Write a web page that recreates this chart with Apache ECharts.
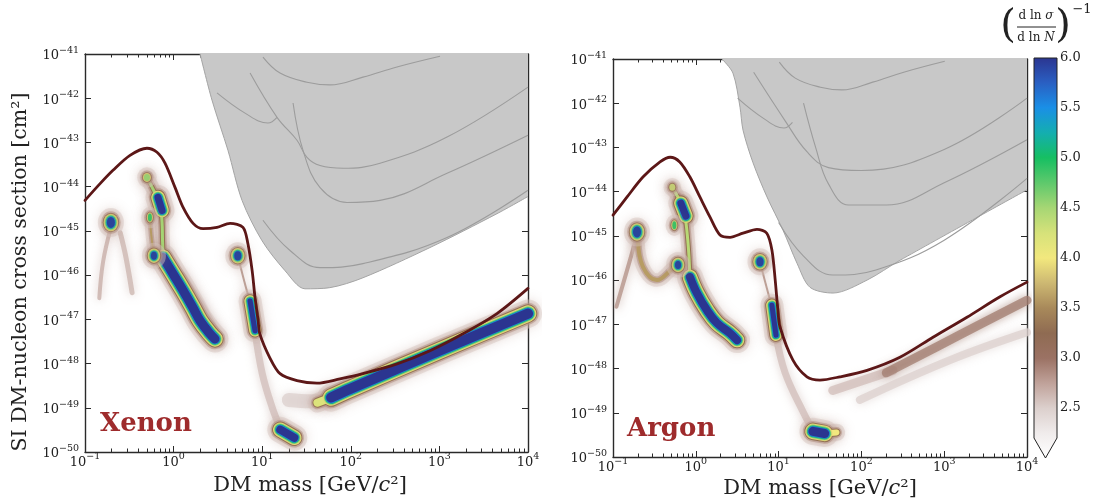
<!DOCTYPE html>
<html><head><meta charset="utf-8">
<script src="https://cdn.jsdelivr.net/npm/echarts@6/dist/echarts.min.js"></script>
<style>html,body{margin:0;padding:0;background:#fff}#c{width:1101px;height:501px}</style>
</head><body><div id="c"></div>
<script>
// ================= DATA =================
// axis tick values
const massTicks = [0.1, 1, 10, 100, 1000, 10000];
const sigmaDecades = [-50, -49, -48, -47, -46, -45, -44, -43, -42, -41];   // exponents of 10 (cm^2)
const cbarTicks = [2.5, 3.0, 3.5, 4.0, 4.5, 5.0, 5.5, 6.0];
const cbarMax = 6.0, cbarLow = 2.2, cbarTip = 2.0;

// ---- Xenon panel ----  [mass GeV, sigma cm^2]
const xeFloor = [[0.1,4.9e-45],[0.148,1.17e-44],[0.207,2.34e-44],[0.322,5.1e-44],[0.50,7.4e-44],[0.65,6.0e-44],[0.80,3.4e-44],[1.04,9.5e-45],[1.28,3.4e-45],[1.66,1.48e-45],[2.15,1.12e-45],[3.09,1.2e-45],[4.34,1.48e-45],[6.07,1.2e-45],[6.9,5.1e-46],[7.7,1.26e-46],[8.3,3.1e-47],[9.0,9.3e-48],[9.4,4.7e-48],[12.2,1.35e-48],[15.9,5.9e-49],[24.7,4.1e-49],[41.5,3.6e-49],[75.5,4.5e-49],[137,5.9e-49],[332,9.8e-49],[783,1.95e-48],[1845,4.7e-48],[4467,1.35e-47],[10000,5.0e-47]];
const xeExcl = [[1.99,1e-41],[2.71,9.1e-43],[4.11,6.6e-44],[5.92,4.9e-45],[9.95,6.0e-46],[18.1,1.26e-46],[30.4,4.9e-47],[58,5.2e-47],[137,8.7e-47],[783,4.2e-46],[4467,2.45e-45],[10000,6.0e-45]];
const xeLim1 = [[7.3,3.7e-42],[14.7,3.7e-43],[24.7,1.12e-43],[32,4.6e-44],[45,3.0e-44],[82,2.6e-44],[214,3.4e-44],[1220,1.32e-43],[10000,1.78e-42]];
const xeLim2 = [[22.3,7.8e-43],[28.9,6.6e-44],[45,9.5e-45],[90.6,4.4e-45],[214,4.9e-45],[1220,2.0e-44],[10000,1.45e-43]];
const xeLim3 = [[10.2,1.74e-45],[20.6,3.6e-46],[45,1.48e-46],[137,1.82e-46],[1220,7.1e-46],[10000,8.3e-45]];
const xeLim4 = [[3.09,1.32e-42],[6.4,4.6e-43],[11.6,2.75e-43],[14.7,3.7e-43]];
const xeLim5 = [[10.2,8.5e-42],[15.9,3.7e-42],[32,2.3e-42],[58,2.0e-42],[137,3.0e-42],[332,5.1e-42],[1016,8.9e-42]];

const xeSpots = [[0.196,1.55e-45],[0.50,1.62e-44],[0.54,2.0e-45],[0.60,2.75e-46],[5.3,2.75e-46]];
const xeSpotPeak = [6.0, 4.6, 5.0, 6.0, 6.0];
const xeBand = [[0.76,2.5e-46],[0.985,1.07e-46],[1.28,4.5e-47],[1.66,1.8e-47],[1.99,9.3e-48],[2.58,4.7e-48],[2.93,3.6e-48]];
const xeStrand = [[0.50,1.62e-44],[0.62,7e-45],[0.70,4.0e-45],[0.74,1.6e-45],[0.75,6e-46],[0.76,2.5e-46]];
const xeStrand2 = [[0.54,2e-45],[0.56,8e-46],[0.60,2.75e-46]];
const xeSpot3 = [[0.667,5.7e-45],[0.74,2.9e-45]];
const xeSpot7 = [[7.3,2.6e-47],[8.3,5.5e-48]];
const xeSpot8 = [[16,3.2e-50],[23,2.1e-50]];
const xeBand2Tip = [[42,1.3e-49],[62,1.75e-49]];
const xeBand2 = [[60,1.7e-49],[100,2.7e-49],[1000,1.95e-48],[10000,1.35e-47]];
const xeHaze1 = [[0.196,1.2e-45],[0.16,2e-46],[0.145,3e-47]];
const xeHaze2 = [[0.25,9e-46],[0.29,2.5e-46],[0.34,4e-47]];
const xeHaze3 = [[1.2,9e-47],[2.0,1.8e-47],[3.3,3e-48]];
const xeHaze4 = [[5.3,2.75e-46],[6.6,5e-47],[7.3,2.6e-47]];
const xeHaze5 = [[8.3,5.5e-48],[10,6e-49],[13,1e-49],[16,3.5e-50]];
const xeHaze6 = [[20,1.5e-49],[35,1.4e-49],[50,1.45e-49]];

// ---- Argon panel ----
const arFloor = [[0.1,2.95e-45],[0.148,7.6e-45],[0.23,2.14e-44],[0.37,4.7e-44],[0.49,6.0e-44],[0.64,4.7e-44],[0.85,2.14e-44],[1.12,7.6e-45],[1.48,2.7e-45],[1.96,1.05e-45],[2.59,9.3e-46],[3.72,1.15e-45],[5.48,1.41e-45],[7.2,1.15e-45],[8.3,4.8e-46],[9.1,1.0e-46],[9.8,2.1e-47],[10.4,8.7e-48],[14.9,1.55e-48],[22,6.5e-49],[31.6,5.5e-49],[55,6.5e-49],[117,9.1e-49],[292,1.8e-48],[733,5.1e-48],[1884,1.45e-47],[4720,4.2e-47],[10000,9.0e-47]];
const arExcl = [[2.07,1e-41],[2.81,4.8e-42],[3.42,8.1e-43],[3.72,2.45e-43],[4.91,4.5e-44],[7.24,7.6e-45],[11.3,1.35e-45],[16.7,2.4e-46],[23.9,6.9e-47],[45.4,5.1e-47],[117,1.0e-46],[292,2.8e-46],[10000,1.1e-44]];
const arLim1 = [[5,5e-42],[12,4e-43],[22,8e-44],[40,3.5e-44],[100,3e-44],[1000,9e-44],[10000,1.3e-42]];
const arLim2 = [[20,1e-42],[28,1e-43],[40,1.5e-44],[70,5e-45],[200,5e-45],[1000,1.6e-44],[10000,1.5e-43]];
const arLim3 = [[10,2e-45],[20,3.5e-46],[45,1.3e-46],[150,1.7e-46],[1000,8e-46],[10000,2.0e-44]];
const arLim4 = [[3.2,1.3e-42],[6.5,4.6e-43],[11.6,2.75e-43],[14.7,3.7e-43]];
const arLim5 = [[10.2,8.5e-42],[15.9,3.7e-42],[32,2.3e-42],[58,2.0e-42],[137,3.0e-42],[332,5.1e-42],[1016,8.9e-42]];

const arSpots = [[0.195,1.23e-45],[0.52,1.26e-44],[0.55,1.74e-45],[0.61,2.2e-46],[5.96,2.6e-46]];
const arSpotPeak = [6.0, 4.3, 5.0, 6.0, 6.0];
const arSpot3 = [[0.66,5.5e-45],[0.76,2.8e-45]];
const arStrand = [[0.52,1.26e-44],[0.62,7e-45],[0.72,3.6e-45],[0.80,8e-46],[0.85,1.17e-46]];
const arBand = [[0.85,1.17e-46],[1.03,5.1e-47],[1.36,2.1e-47],[1.80,1.07e-47],[2.59,6.3e-48],[3.15,4.4e-48]];
const arSpot7 = [[8.3,2.7e-47],[9.3,5.7e-48]];
const arSpot8 = [[26,3.8e-50],[36,3.4e-50]];
const arSpot8Tail = [[36,3.4e-50],[50,3.6e-50]];
const arArch = [[0.2,8e-46],[0.23,2e-46],[0.34,1.0e-46],[0.5,1.7e-46],[0.6,2.5e-46]];
const arTail = [[0.19,9e-46],[0.16,2.8e-46],[0.11,2.5e-47]];
const arHigh1a = [[45,3.2e-49],[240,9.1e-49]];
const arHigh1b = [[200,8e-49],[1550,5.8e-48],[10000,3.5e-47]];
const arHigh2 = [[96,1.95e-49],[1175,1.55e-48],[10000,6.6e-48]];
const arHaze1 = [[5.96,2.6e-46],[7.5,5e-47],[8.3,2.7e-47]];
const arHaze2 = [[9.3,5.7e-48],[12,8e-49],[20,1e-49],[26,4e-50]];

// ================= STYLE / BUILD =================
const FONT = "'DejaVu Serif', serif";
const cbarStops = [[2.0,'#ffffff'],[2.25,'#f0ecec'],[2.5,'#dcd0cd'],[2.75,'#c0a29a'],[3.0,'#9b7264'],[3.25,'#8f6b52'],[3.5,'#a8895a'],[3.75,'#cdb872'],[4.0,'#f2e87e'],[4.25,'#d6e27a'],[4.5,'#a6d674'],[4.75,'#5ec96c'],[5.0,'#16bf62'],[5.25,'#14aeb0'],[5.5,'#1a8fe6'],[5.75,'#2a5fc2'],[6.0,'#2b3590']];
function hex(h){return [parseInt(h.substr(1,2),16),parseInt(h.substr(3,2),16),parseInt(h.substr(5,2),16)];}
function cmap(v){
  if (v<=cbarStops[0][0]) return cbarStops[0][1];
  for (let i=1;i<cbarStops.length;i++){
    if (v<=cbarStops[i][0]){
      const [v0,c0]=cbarStops[i-1],[v1,c1]=cbarStops[i];
      const t=(v-v0)/(v1-v0), a=hex(c0), b=hex(c1);
      return 'rgb('+a.map((x,k)=>Math.round(x+(b[k]-x)*t)).join(',')+')';
    }
  }
  return cbarStops[cbarStops.length-1][1];
}
function rgba(c,a){const m=c.match(/\d+/g);return 'rgba('+m.slice(0,3).join(',')+','+a+')';}
function powLabel(e){return '{b|10}{s|'+String(Math.round(e)).replace('-','\u2212')+'}';}
const POWRICH = {
  b:{fontSize:13,fontFamily:'DejaVu Serif',color:'#222',lineHeight:17,verticalAlign:'bottom'},
  s:{fontSize:9.5,fontFamily:'DejaVu Serif',color:'#222',lineHeight:10,verticalAlign:'top'}
};
const L = pts => pts.map(p => [p[0], Math.log10(p[1])]);   // sigma -> decade exponent for the y scale
const minorMass=[];
for (let d=-1; d<4; d++) for (let k=2;k<=9;k++) minorMass.push(+(k*Math.pow(10,d)).toPrecision(3));

const AX = '#2a2a2a';
const grids = [
  {left:85, top:54, width:443, height:398},
  {left:613, top:59, width:414, height:398},
  {left:1034, top:58, width:23, height:400}
];
const xAxes = [], yAxes = [];
for (let gi=0; gi<2; gi++){
  const base = {gridIndex:gi, type:'log', logBase:10, min:0.1, max:10000, splitLine:{show:false}, minorTick:{show:false}};
  xAxes.push(Object.assign({}, base, {position:'bottom', axisLine:{show:true,lineStyle:{color:AX,width:1.4}},
    axisTick:{show:true,inside:true,length:6,customValues:massTicks,lineStyle:{color:AX,width:1}},
    axisLabel:{show:true,customValues:massTicks,formatter:v=>powLabel(Math.log10(v)),rich:POWRICH,margin:0}}));
  xAxes.push(Object.assign({}, base, {position:'bottom', axisLine:{show:false},
    axisTick:{show:true,inside:true,length:3.5,customValues:minorMass,lineStyle:{color:AX,width:1}}, axisLabel:{show:false}}));
  xAxes.push(Object.assign({}, base, {position:'top', axisLine:{show:true,lineStyle:{color:AX,width:1.4}},
    axisTick:{show:true,inside:true,length:6,customValues:massTicks,lineStyle:{color:AX,width:1}}, axisLabel:{show:false}}));
  xAxes.push(Object.assign({}, base, {position:'top', axisLine:{show:false},
    axisTick:{show:true,inside:true,length:3.5,customValues:minorMass,lineStyle:{color:AX,width:1}}, axisLabel:{show:false}}));
  const ybase = {gridIndex:gi, type:'value', min:-50, max:-41, splitLine:{show:false}, minorTick:{show:false}};
  yAxes.push(Object.assign({}, ybase, {position:'left', axisLine:{show:true,lineStyle:{color:AX,width:1.4}},
    axisTick:{show:true,inside:true,length:6,customValues:sigmaDecades,lineStyle:{color:AX,width:1}},
    axisLabel:{show:true,customValues:sigmaDecades,formatter:v=>powLabel(v),rich:POWRICH,margin:6}}));
  yAxes.push(Object.assign({}, ybase, {position:'right', axisLine:{show:true,lineStyle:{color:AX,width:1.4}},
    axisTick:{show:true,inside:true,length:6,customValues:sigmaDecades,lineStyle:{color:AX,width:1}}, axisLabel:{show:false}}));
}
xAxes.push({gridIndex:2, type:'value', min:0, max:1, show:false});
yAxes.push({gridIndex:2, type:'value', min:2, max:6, position:'right', axisLine:{show:false}, splitLine:{show:false},
  axisTick:{show:true,inside:false,length:4,customValues:cbarTicks,lineStyle:{color:AX}},
  axisLabel:{customValues:cbarTicks,formatter:v=>v.toFixed(1),fontFamily:FONT,fontSize:13,color:'#222',margin:3}});

const series = [];
// colour layers of the field (value levels) and ring widths
const LEVELS = [2.55, 2.85, 3.3, 3.9, 4.6, 5.1, 5.6, 6.0];
const EXTRA  = [18, 11.5, 8.5, 6.5, 4.5, 2.8, 1.4, 0];
function topIndex(p){let n=0;for(let i=0;i<LEVELS.length;i++) if(LEVELS[i]<=p+1e-6) n=i;return n;}
const ELL = 'path://M0,-1A1,1 0 1,1 0,1A1,1 0 1,1 0,-1Z';
const HALO = [{opacity:0.45, shadowBlur:12, shadowColor:'rgba(170,130,120,0.5)'},{opacity:0.55, shadowBlur:5, shadowColor:'rgba(170,120,100,0.6)'}];

const panels = [
  {gi:0,
   soft:[{d:xeHaze1,peak:2.7,w:4},{d:xeHaze2,peak:2.65,w:5},{d:xeHaze3,peak:2.55,w:12},{d:xeHaze4,peak:2.9,w:2},
    {d:xeHaze5,peak:2.6,w:7},{d:xeHaze6,peak:2.5,w:14}],
   lines:[{d:xeStrand,peak:4.5,w:3},{d:xeStrand2,peak:3.6,w:2},{d:xeBand,peak:6,w:9},{d:xeSpot3,peak:6,w:7},
    {d:xeSpot7,peak:6,w:5},{d:xeSpot8,peak:6,w:8},{d:xeBand2Tip,peak:4.2,w:8},{d:xeBand2,peak:6,w:10}],
   spots: xeSpots, spotPeak: xeSpotPeak, spotSize:[[8,11],[6,7],[4,8],[6,8],[7,9]]},
  {gi:1,
   soft:[{d:arTail,peak:2.85,w:4},{d:arHaze1,peak:2.9,w:2},{d:arHaze2,peak:2.6,w:7},
    {d:arHigh1a,peak:2.6,w:9},{d:arHigh1b,peak:2.95,w:9},{d:arHigh2,peak:2.5,w:8}],
   lines:[{d:arArch,peak:3.6,w:4},{d:arStrand,peak:4.4,w:3},{d:arBand,peak:6,w:8},{d:arSpot3,peak:6,w:7},{d:arSpot7,peak:6,w:5},
    {d:arSpot8Tail,peak:4.0,w:6},{d:arSpot8,peak:6,w:9}],
   spots: arSpots, spotPeak: arSpotPeak, spotSize:[[8,11],[6,7],[4,8],[6,8],[7,9]]}
];

// soft, low-value haze first
panels.forEach(P=>{
  P.soft.forEach(f=>{
    const c=cmap(f.peak);
    series.push({type:'line',xAxisIndex:4*P.gi,yAxisIndex:2*P.gi,data:L(f.d),smooth:0.4,symbol:'none',silent:true,z:2,
      lineStyle:{color:rgba(c,0.75),width:f.w,cap:'round',join:'round',shadowBlur:10,shadowColor:rgba(c,0.9)}});
  });
});
for (let i=0;i<LEVELS.length;i++){
  panels.forEach(P=>{
    P.lines.forEach(f=>{
      const n=topIndex(f.peak); if(i>n) return;
      const width=f.w+EXTRA[i]-EXTRA[n];
      const color= i===n ? cmap(f.peak) : cmap(LEVELS[i]);
      const ls=Object.assign({color:color,width:width,cap:'round',join:'round'}, (i<2 && i<n)?HALO[i]:{});
      series.push({type:'line',xAxisIndex:4*P.gi,yAxisIndex:2*P.gi,data:L(f.d),smooth:0.4,symbol:'none',
        lineStyle:ls,silent:true,z:2});
    });
    const items=[];
    P.spots.forEach((s,k)=>{
      const n=topIndex(P.spotPeak[k]); if(i>n) return;
      const add=EXTRA[i]-EXTRA[n]; const sz=P.spotSize[k];
      items.push({value:L([s])[0],symbolSize:[sz[0]+add,sz[1]+add],
        itemStyle:Object.assign({color: i===n?cmap(P.spotPeak[k]):cmap(LEVELS[i])}, (i<2 && i<n)?HALO[i]:{})});
    });
    if(items.length) series.push({type:'scatter',xAxisIndex:4*P.gi,yAxisIndex:2*P.gi,symbol:ELL,data:items,silent:true,z:2});
  });
}

// exclusion regions (grey) and individual limit curves
[[0,xeExcl,[xeLim1,xeLim2,xeLim3,xeLim4,xeLim5]],[1,arExcl,[arLim1,arLim2,arLim3,arLim4,arLim5]]].forEach(([gi,ex,lims])=>{
  series.push({type:'line',xAxisIndex:4*gi,yAxisIndex:2*gi,data:L(ex),smooth:0.3,symbol:'none',silent:true,z:3,
    lineStyle:{color:'#a4a4a4',width:1},areaStyle:{color:'#c8c8c8',opacity:1,origin:'end'}});
  lims.forEach(l=>series.push({type:'line',xAxisIndex:4*gi,yAxisIndex:2*gi,data:L(l),smooth:0.4,symbol:'none',silent:true,z:4,
    lineStyle:{color:'#9c9c9c',width:1.1}}));
});
// neutrino-floor style curves
[[0,xeFloor],[1,arFloor]].forEach(([gi,d])=>{
  series.push({type:'line',xAxisIndex:4*gi,yAxisIndex:2*gi,data:L(d),smooth:0.3,symbol:'none',silent:true,z:6,
    lineStyle:{color:'#5c1717',width:2.8,cap:'round',join:'round'}});
});
// colour bar
series.push({type:'custom',xAxisIndex:8,yAxisIndex:4,data:[[0,0]],silent:true,z:5,
  renderItem:(params,api)=>{
    const tl=api.coord([0,cbarMax]),tr=api.coord([1,cbarMax]),br=api.coord([1,cbarLow]),tip=api.coord([0.5,cbarTip]),bl=api.coord([0,cbarLow]);
    const stops=cbarStops.map(([v,c])=>({offset:(cbarMax-v)/(cbarMax-cbarTip),color:c})).sort((a,b)=>a.offset-b.offset);
    return {type:'polygon',shape:{points:[tl,tr,br,tip,bl]},
      style:{fill:new echarts.graphic.LinearGradient(0,0,0,1,stops),stroke:'#222',lineWidth:1}};
  }});

const graphic = [
  {type:'text',left:100,top:411,style:{text:'Xenon',font:"bold 26px 'DejaVu Serif'",fill:'#9e2b2c'}},
  {type:'text',left:627,top:416,style:{text:'Argon',font:"bold 26px 'DejaVu Serif'",fill:'#9e2b2c'}},
  {type:'text',x:310,y:486,style:{text:'DM mass [GeV/{i|c}\u00B2]',font:"21px 'DejaVu Serif'",fill:'#222',align:'center',verticalAlign:'middle',
    rich:{i:{fontStyle:'italic',fontSize:21,fontFamily:'DejaVu Serif'}}}},
  {type:'text',x:820,y:489,style:{text:'DM mass [GeV/{i|c}\u00B2]',font:"21px 'DejaVu Serif'",fill:'#222',align:'center',verticalAlign:'middle',
    rich:{i:{fontStyle:'italic',fontSize:21,fontFamily:'DejaVu Serif'}}}},
  {type:'text',x:21,y:272,rotation:Math.PI/2,style:{text:'SI DM-nucleon cross section [cm\u00B2]',font:"20.5px 'DejaVu Serif'",fill:'#222',align:'center',verticalAlign:'middle'}},
  // colour-bar title
  {type:'text',x:1008,y:27,style:{text:'(',font:"40px 'DejaVu Serif'",fill:'#222',align:'center',verticalAlign:'middle'}},
  {type:'text',x:1036,y:16,style:{text:'d ln {i|\u03C3}',font:"12px 'DejaVu Serif'",fill:'#222',align:'center',verticalAlign:'middle',
    rich:{i:{fontStyle:'italic',fontSize:12,fontFamily:'DejaVu Serif'}}}},
  {type:'line',shape:{x1:1017,y1:27,x2:1056,y2:27},style:{stroke:'#222',lineWidth:1}},
  {type:'text',x:1036,y:38,style:{text:'d ln {i|N}',font:"12px 'DejaVu Serif'",fill:'#222',align:'center',verticalAlign:'middle',
    rich:{i:{fontStyle:'italic',fontSize:12,fontFamily:'DejaVu Serif'}}}},
  {type:'text',x:1063,y:27,style:{text:')',font:"40px 'DejaVu Serif'",fill:'#222',align:'center',verticalAlign:'middle'}},
  {type:'text',x:1082,y:10,style:{text:'\u22121',font:"13px 'DejaVu Serif'",fill:'#222',align:'center',verticalAlign:'middle'}}
];

const chart = echarts.init(document.getElementById('c'));
chart.setOption({animation:false, backgroundColor:'#fff', grid:grids, xAxis:xAxes, yAxis:yAxes, series:series, graphic:graphic});
</script></body></html>
